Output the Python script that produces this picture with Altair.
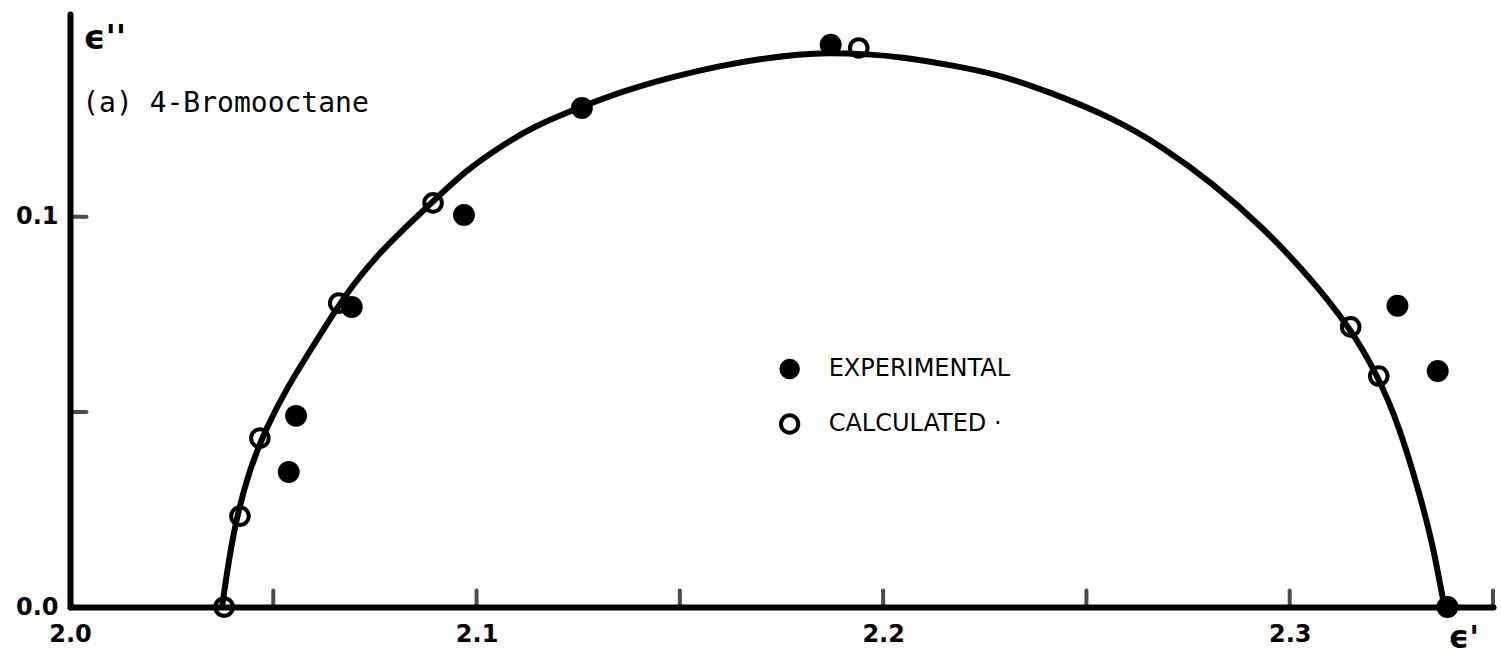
import altair as alt
import pandas as pd

# Experimental points (eps', eps'')
exp_eps1 = [2.1871, 2.1259, 2.0969, 2.0693, 2.0556, 2.0538, 2.3265, 2.3364, 2.3388]
exp_eps2 = [0.1441, 0.1279, 0.1005, 0.0769, 0.0490, 0.0346, 0.0772, 0.0605, 0.0]

# Calculated points (eps', eps'')
calc_eps1 = [2.1940, 2.0893, 2.0661, 2.0467, 2.0418, 2.0379, 2.3150, 2.3219]
calc_eps2 = [0.1433, 0.1036, 0.0779, 0.0433, 0.0233, 0.0, 0.0718, 0.0592]

# Fitted arc, traced along its length
arc_eps1 = [2.0374, 2.0401, 2.0443, 2.0484, 2.0534, 2.0590, 2.0647, 2.0696,
            2.0752, 2.0811, 2.0893, 2.0976, 2.1057, 2.1138, 2.1259, 2.1370,
            2.1493, 2.1598, 2.1697, 2.1795, 2.1861, 2.1967, 2.2041, 2.2164,
            2.2287, 2.2402, 2.2565, 2.2688, 2.2810, 2.2933, 2.3049, 2.3147,
            2.3216, 2.3270, 2.3319, 2.3351, 2.3374, 2.3381]
arc_eps2 = [0.0, 0.0197, 0.0359, 0.0462, 0.0562, 0.0656, 0.0751, 0.0826,
            0.0897, 0.0959, 0.1040, 0.1121, 0.1179, 0.1231, 0.1283, 0.1326,
            0.1362, 0.1387, 0.1405, 0.1417, 0.1421, 0.1417, 0.1410, 0.1390,
            0.1364, 0.1323, 0.1254, 0.1179, 0.1087, 0.0974, 0.0846, 0.0718,
            0.0595, 0.0462, 0.0292, 0.0164, 0.0036, 0.0]

# Axis ticks and labels
x_tick_values = [2.05, 2.10, 2.15, 2.20, 2.25, 2.30, 2.35]
y_tick_values = [0.05, 0.10]
x_label_values = [2.0, 2.1, 2.2, 2.3]
y_label_values = [0.0, 0.1]

# Key entries
key_labels = ["EXPERIMENTAL", "CALCULATED \u00b7"]
key_eps1 = [2.1770, 2.1770]
key_eps2 = [0.0610, 0.0469]
key_text_eps1 = 2.1866

panel_label = "(a) 4-Bromooctane"
panel_label_pos = (2.0030, 0.1269)

arc_df = pd.DataFrame({"x": arc_eps1, "y": arc_eps2, "i": list(range(len(arc_eps1)))})
exp_df = pd.DataFrame({"x": exp_eps1, "y": exp_eps2})
calc_df = pd.DataFrame({"x": calc_eps1, "y": calc_eps2})
xt_df = pd.DataFrame({"x": x_tick_values, "y": [0.0] * len(x_tick_values)})
yt_df = pd.DataFrame({"x": [2.0] * len(y_tick_values), "y": y_tick_values})
key_df = pd.DataFrame({"x": key_eps1, "y": key_eps2, "label": key_labels,
                       "tx": [key_text_eps1] * 2})
lab_df = pd.DataFrame({"x": [panel_label_pos[0]], "y": [panel_label_pos[1]],
                       "label": [panel_label]})

LABEL_FONT = "DejaVu Sans"
xs = alt.Scale(domain=[2.0, 2.35], nice=False, zero=False)
ys = alt.Scale(domain=[0.0, 0.152], nice=False, zero=False)

x_axis = alt.Axis(
    values=x_label_values, format=".1f", ticks=False, tickSize=0, grid=False,
    domainWidth=6, domainColor="black", domainCap="round",
    labelFont=LABEL_FONT, labelFontWeight="bold", labelFontSize=24,
    labelColor="black", labelPadding=15, labelFlush=False, labelOverlap=False,
    title="\u03f5'", titleX=1378, titleY=40, titleAngle=0, titleAlign="left",
    titleBaseline="alphabetic", titleFont=LABEL_FONT, titleFontSize=32,
    titleFontWeight="bold", titleColor="black",
)
y_axis = alt.Axis(
    values=y_label_values, format=".1f", ticks=False, tickSize=0, grid=False,
    domainWidth=6, domainColor="black", domainCap="round",
    labelFont=LABEL_FONT, labelFontWeight="bold", labelFontSize=24,
    labelColor="black", labelPadding=12, labelFlush=False, labelOverlap=False,
    labelAlign="right", labelBaseline="middle",
    title="\u03f5''", titleX=13, titleY=34, titleAngle=0, titleAlign="left",
    titleBaseline="alphabetic", titleFont=LABEL_FONT, titleFontSize=34,
    titleFontWeight="bold", titleColor="black",
)

X = alt.X("x:Q", scale=xs, axis=x_axis)
Y = alt.Y("y:Q", scale=ys, axis=y_axis)

arc = alt.Chart(arc_df).mark_line(
    color="black", strokeWidth=6, interpolate="basis", strokeCap="round"
).encode(x=X, y=Y, order=alt.Order("i:Q"))

exp_pts = alt.Chart(exp_df).mark_circle(size=480, color="black", opacity=1).encode(x=X, y=Y)

calc_pts = alt.Chart(calc_df).mark_point(
    shape="circle", filled=False, size=310, stroke="black", strokeWidth=4, opacity=1
).encode(x=X, y=Y)

x_ticks = alt.Chart(xt_df).mark_tick(
    orient="vertical", size=19, thickness=4, color="black", yOffset=-9, cornerRadius=2
).encode(x=X, y=Y)

y_ticks = alt.Chart(yt_df).mark_tick(
    orient="horizontal", size=19, thickness=4, color="black", xOffset=9, cornerRadius=2
).encode(x=X, y=Y)

key_exp = alt.Chart(key_df.iloc[[0]]).mark_circle(size=420, color="black", opacity=1).encode(x=X, y=Y)
key_calc = alt.Chart(key_df.iloc[[1]]).mark_point(
    shape="circle", filled=False, size=300, stroke="black", strokeWidth=4, opacity=1
).encode(x=X, y=Y)
key_text = alt.Chart(key_df).mark_text(
    align="left", baseline="middle", font=LABEL_FONT, fontSize=24, color="black"
).encode(x=alt.X("tx:Q", scale=xs, axis=x_axis), y=Y, text="label:N")

panel_text = alt.Chart(lab_df).mark_text(
    align="left", baseline="alphabetic", font="DejaVu Sans Mono", fontSize=28, color="black"
).encode(x=X, y=Y, text="label:N")

chart = alt.layer(
    arc, x_ticks, y_ticks, exp_pts, calc_pts, key_exp, key_calc, key_text, panel_text
).properties(
    width=1423, height=593,
    autosize=alt.AutoSizeParams(type="none"),
    padding={"left": 70, "top": 14, "right": 8, "bottom": 51},
    background="white",
).configure_view(stroke=None)

chart.save("out.html", embed_options={"renderer": "svg", "actions": False})
